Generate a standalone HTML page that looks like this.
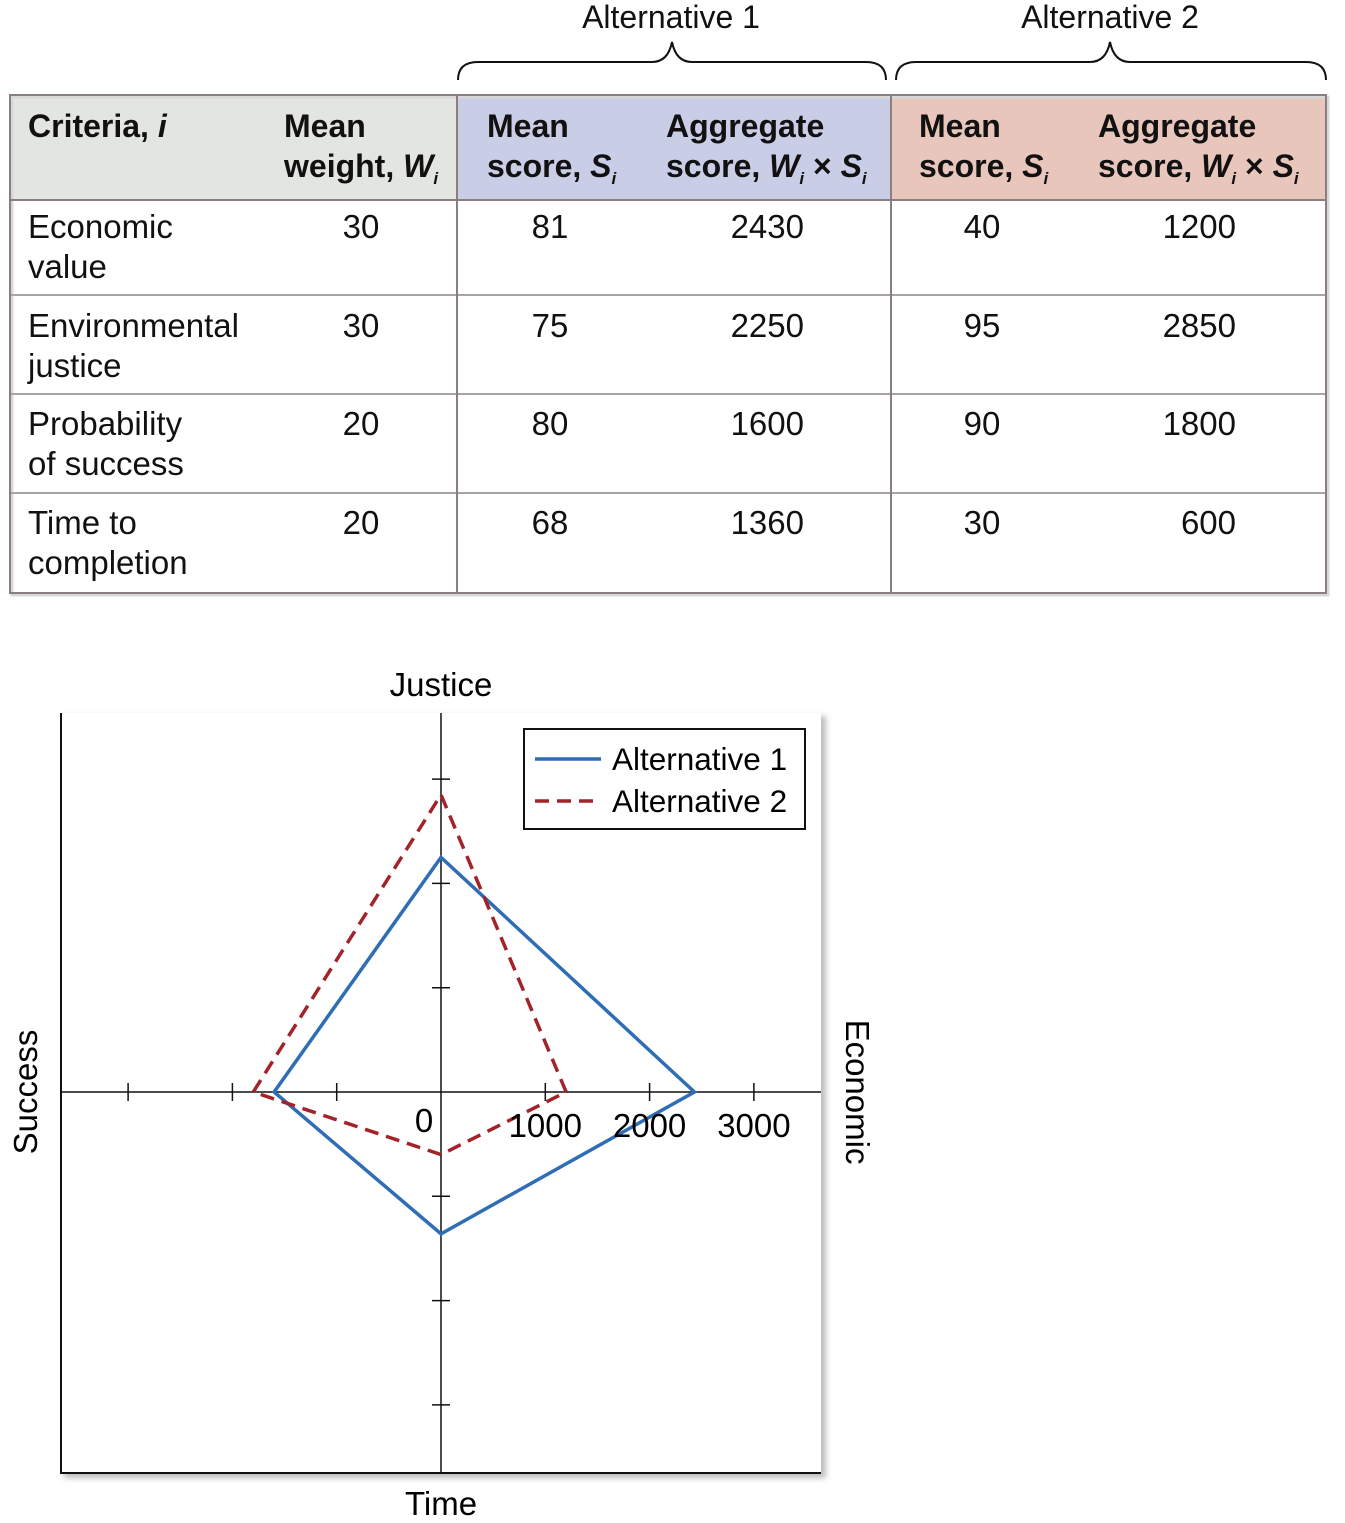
<!DOCTYPE html>
<html><head><meta charset="utf-8">
<style>
body{margin:0;width:1345px;height:1523px;background:#fff;position:relative;font-family:"Liberation Sans",Arial,sans-serif;color:#111;overflow:hidden}
.t{position:absolute;font-size:33px;line-height:40px;white-space:nowrap}
.b{font-weight:bold;font-size:32px}
.c{transform:translateX(-50%)}
.r{transform:translateX(-100%)}
sub{font-size:17px;font-style:italic;vertical-align:-7px;line-height:0}
</style></head><body>
<svg width="1345" height="1523" style="position:absolute;left:0;top:0">
  <rect x="10" y="95" width="447" height="105" fill="#e3e6e0"/>
  <rect x="457" y="95" width="434" height="105" fill="#c9cde6"/>
  <rect x="891" y="95" width="435" height="105" fill="#e8c6bb"/>
  <rect x="12" y="97" width="1316" height="498" fill="none" stroke="#d8d8d8" stroke-width="3"/>
  <g stroke="#a8a4a4" stroke-width="2">
    <line x1="10" y1="295" x2="1326" y2="295"/>
    <line x1="10" y1="394" x2="1326" y2="394"/>
    <line x1="10" y1="493" x2="1326" y2="493"/>
  </g>
  <g stroke="#8a7e7e" stroke-width="2" fill="none">
    <line x1="10" y1="200" x2="1326" y2="200"/>
    <line x1="457" y1="95" x2="457" y2="593"/>
    <line x1="891" y1="95" x2="891" y2="593"/>
    <rect x="10" y="95" width="1316" height="498"/>
  </g>
  <path d="M458,80 Q458,62 478,62 L652,62 Q668,62 672,42 Q676,62 692,62 L866,62 Q886,62 886,80" fill="none" stroke="#111" stroke-width="2"/>
  <path d="M896,80 Q896,62 916,62 L1090,62 Q1106,62 1110,42 Q1114,62 1130,62 L1306,62 Q1326,62 1326,80" fill="none" stroke="#111" stroke-width="2"/>
  <defs><filter id="sh" x="-5%" y="-5%" width="110%" height="110%"><feGaussianBlur stdDeviation="3"/></filter></defs>
  <g id="chart"></g>
</svg>

<div class="t c" style="left:671px;top:-3px;font-size:32px">Alternative 1</div>
<div class="t c" style="left:1110px;top:-3px;font-size:32px">Alternative 2</div>

<div class="t b" style="left:28px;top:106px">Criteria, <i>i</i></div>
<div class="t b" style="left:284px;top:106px">Mean<br>weight, <i>W</i><sub>i</sub></div>
<div class="t b" style="left:487px;top:106px">Mean<br>score, <i>S</i><sub>i</sub></div>
<div class="t b" style="left:666px;top:106px">Aggregate<br>score, <i>W</i><sub>i</sub> × <i>S</i><sub>i</sub></div>
<div class="t b" style="left:919px;top:106px">Mean<br>score, <i>S</i><sub>i</sub></div>
<div class="t b" style="left:1098px;top:106px">Aggregate<br>score, <i>W</i><sub>i</sub> × <i>S</i><sub>i</sub></div>

<div id="rows"></div>

<script>
const criteria=[["Economic","value"],["Environmental","justice"],["Probability","of success"],["Time to","completion"]];
const weights=[30,30,20,20];
const alt1Scores=[81,75,80,68];
const alt1Agg=[2430,2250,1600,1360];
const alt2Scores=[40,95,90,30];
const alt2Agg=[1200,2850,1800,600];
const xTicks=[1000,2000,3000];

const rowTops=[207,306,404,503];
const rows=document.getElementById('rows');
function cell(txt,left,top,cls,name){
  const d=document.createElement('div');
  d.className='t '+cls;
  d.style.left=left+'px';d.style.top=top+'px';
  d.innerHTML=txt;
  
  
  rows.appendChild(d);
}
criteria.forEach((c,i)=>{
  const y=rowTops[i];
  cell(c[0]+'<br>'+c[1],28,y,'','criteria-label');
  cell(weights[i],361,y,'c','weight-value');
  cell(alt1Scores[i],550,y,'c','alt1-score');
  cell(alt1Agg[i],804,y,'r','alt1-aggregate');
  cell(alt2Scores[i],982,y,'c','alt2-score');
  cell(alt2Agg[i],1236,y,'r','alt2-aggregate');
});

const cx=441, cy=1092, k=0.1043;
const NS='http://www.w3.org/2000/svg';
const g=document.getElementById('chart');
function el(tag,attrs,name){
  const e=document.createElementNS(NS,tag);
  for(const a in attrs)e.setAttribute(a,attrs[a]);
  
  
  g.appendChild(e);return e;
}
el('rect',{x:64,y:716,width:762,height:762,fill:'#bdbdbd',filter:'url(#sh)'},'plot-shadow');
el('rect',{x:61,y:713,width:760,height:760,fill:'#fff'},'plot-area');
el('polyline',{points:'61,713 61,1473 821,1473',fill:'none',stroke:'#111','stroke-width':2},'plot-frame');
el('line',{x1:61,y1:cy,x2:821,y2:cy,stroke:'#111','stroke-width':1.5},'x-axis');
el('line',{x1:cx,y1:713,x2:cx,y2:1473,stroke:'#111','stroke-width':1.5},'y-axis');
for(let i=1;i<=3;i++){
  const d=i*1000*k;
  [cx+d,cx-d].forEach(x=>el('line',{x1:x,y1:cy-9,x2:x,y2:cy+9,stroke:'#111','stroke-width':1.5},'x-tick'));
  [cy+d,cy-d].forEach(y=>el('line',{x1:cx-9,y1:y,x2:cx+9,y2:y,stroke:'#111','stroke-width':1.5},'y-tick'));
}
function pts(a){return [[cx+a[0]*k,cy],[cx,cy-a[1]*k],[cx-a[2]*k,cy],[cx,cy+a[3]*k]];}
const p1=pts(alt1Agg), p2=pts(alt2Agg);
el('polygon',{points:p1.map(p=>p.join(',')).join(' '),fill:'none',stroke:'#2f6db5','stroke-width':3.5},'alt1-line');
el('polygon',{points:p2.map(p=>p.join(',')).join(' '),fill:'none',stroke:'#a3232a','stroke-width':3.5,'stroke-dasharray':'14,8'},'alt2-line');
const F={'font-size':33,'font-family':'Liberation Sans'};
function txt(x,y,s,name,extra){const e=el('text',Object.assign({x:x,y:y,'text-anchor':'middle'},F,extra||{}),name);e.textContent=s;return e;}
txt(424,1132,'0','origin-label');
xTicks.forEach(v=>txt(cx+v*k,1137,v,'x-tick-label'));
txt(441,696,'Justice','justice-title');
txt(441,1515,'Time','time-title');
txt(0,0,'Success','success-title',{transform:'translate(37,1092) rotate(-90)'});
txt(0,0,'Economic','economic-title',{transform:'translate(846,1092) rotate(90)'});
el('rect',{x:524,y:729,width:281,height:100,fill:'#fff',stroke:'#111','stroke-width':2},'legend-box');
el('line',{x1:535,y1:759,x2:601,y2:759,stroke:'#2f6db5','stroke-width':3.5},'legend-alt1-swatch');
el('line',{x1:535,y1:801,x2:601,y2:801,stroke:'#a3232a','stroke-width':3.5,'stroke-dasharray':'14,8'},'legend-alt2-swatch');
el('text',{x:612,y:770,'font-size':31.5,'font-family':'Liberation Sans'},'legend-alt1-label').textContent='Alternative 1';
el('text',{x:612,y:812,'font-size':31.5,'font-family':'Liberation Sans'},'legend-alt2-label').textContent='Alternative 2';
</script>
</body></html>
